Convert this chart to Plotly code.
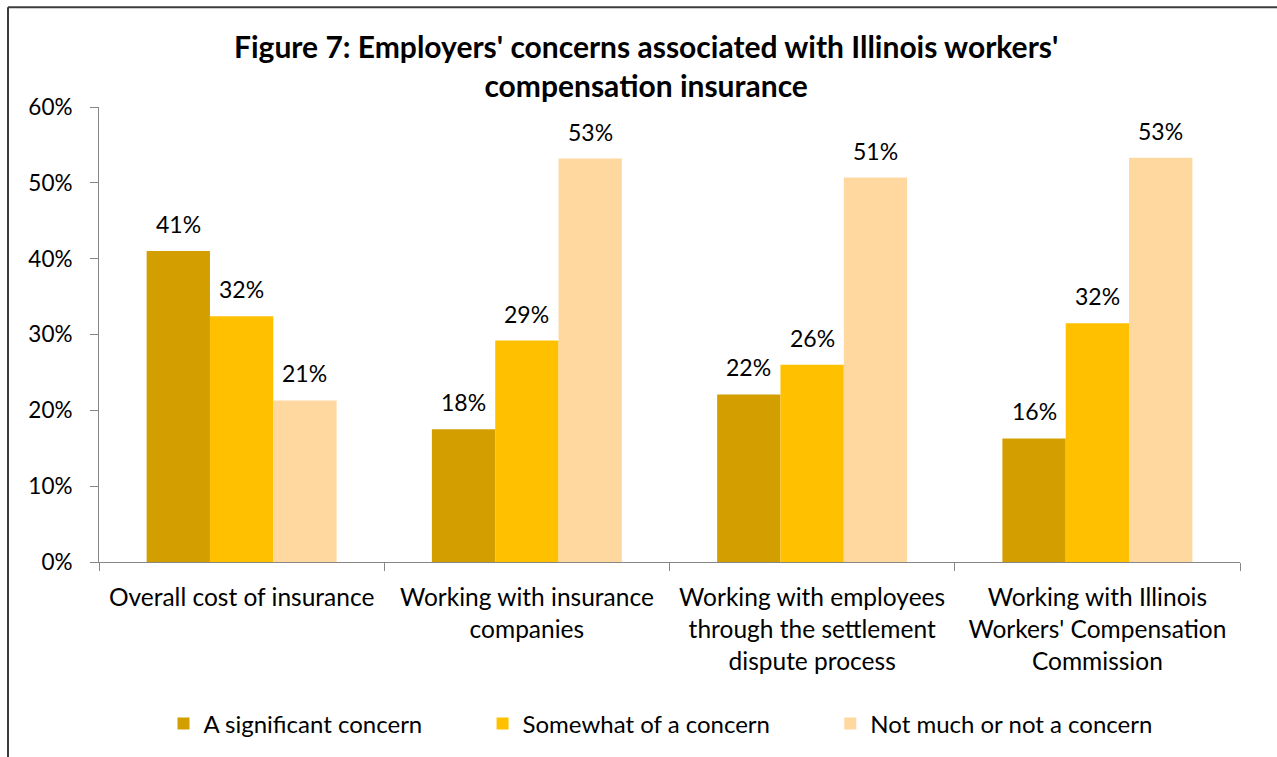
import plotly.graph_objects as go

categories = ["Overall cost of insurance",
              "Working with insurance<br>companies",
              "Working with employees<br>through the settlement<br>dispute process",
              "Working with Illinois<br>Workers' Compensation<br>Commission"]
series_names = ["A significant concern", "Somewhat of a concern", "Not much or not a concern"]
significant = [0.41, 0.175, 0.221, 0.163]
somewhat = [0.324, 0.292, 0.26, 0.315]
not_much = [0.213, 0.532, 0.507, 0.533]
labels_significant = ["41%", "18%", "22%", "16%"]
labels_somewhat = ["32%", "29%", "26%", "32%"]
labels_not_much = ["21%", "53%", "51%", "53%"]
y_ticks = [0, 0.1, 0.2, 0.3, 0.4, 0.5, 0.6]
y_ticklabels = ["0%", "10%", "20%", "30%", "40%", "50%", "60%"]

colors = ["#D29E00", "#FFC000", "#FFD8A0"]
FONT = "Lato"

W, H = 1277, 757
ML, MR, MT, MB = 99, 37, 107, 194
plot_w = W - ML - MR
bargap = 0.334
bar_w = plot_w / len(categories) * (1 - bargap) / 3
legend_pad = "\u00a0" * 9  # extra spacing between legend entries

fig = go.Figure()
all_vals = [significant, somewhat, not_much]
all_labels = [labels_significant, labels_somewhat, labels_not_much]
for k, (name, vals, col) in enumerate(zip(series_names, all_vals, colors)):
    shown = name + (legend_pad if k < len(series_names) - 1 else "")
    fig.add_trace(go.Bar(x=categories, y=vals, name=shown, marker=dict(color=col, line=dict(width=0))))

for i, (vals, labs) in enumerate(zip(all_vals, all_labels)):
    for c, v, t in zip(categories, vals, labs):
        fig.add_annotation(x=c, y=v, text=t, showarrow=False, xshift=(i - 1) * bar_w,
                           yshift=11, yanchor="bottom", font=dict(size=23, color="#000", family=FONT))

fig.update_layout(
    width=W, height=H,
    margin=dict(l=ML, r=MR, t=MT, b=MB, pad=0),
    paper_bgcolor="white", plot_bgcolor="white",
    barmode="group", bargap=bargap, bargroupgap=0,
    title=dict(text="<b>Figure 7: Employers' concerns associated with Illinois workers'<br>compensation insurance</b>",
               x=0.506, xanchor="center", y=(H - 58) / H, yanchor="middle",
               font=dict(size=30, family=FONT, color="#000")),
    font=dict(family=FONT, size=23, color="#000"),
    showlegend=True,
    legend=dict(orientation="h", x=0.5 - 9 / plot_w, xanchor="center", y=(H - MB - 724) / (H - MT - MB),
                yanchor="middle", font=dict(size=24, family=FONT, color="#000"), itemwidth=30,
                traceorder="normal"),
    xaxis=dict(showline=True, linecolor="#868686", linewidth=1, ticks="outside", tickson="boundaries",
               ticklen=8, tickcolor="#868686", showgrid=False, tickfont=dict(size=24.5, family=FONT),
               ticklabelstandoff=14),
    yaxis=dict(range=[0, 0.6], tickvals=y_ticks, ticktext=y_ticklabels, showline=True, linecolor="#868686",
               linewidth=1, ticks="outside", ticklen=8, tickcolor="#868686", showgrid=False,
               tickfont=dict(size=22.5, family=FONT), ticklabelstandoff=13),
)

# chart frame (left and top edges visible)
x_left = (8 - ML) / plot_w
y_top = (H - MB - 7) / (H - MT - MB)
fig.add_shape(type="line", xref="paper", yref="paper", x0=x_left, x1=x_left, y0=-1, y1=y_top,
              line=dict(color="#3c3c3c", width=2))
fig.add_shape(type="line", xref="paper", yref="paper", x0=x_left, x1=1.2, y0=y_top, y1=y_top,
              line=dict(color="#3c3c3c", width=2))

fig.write_html("out.html")
